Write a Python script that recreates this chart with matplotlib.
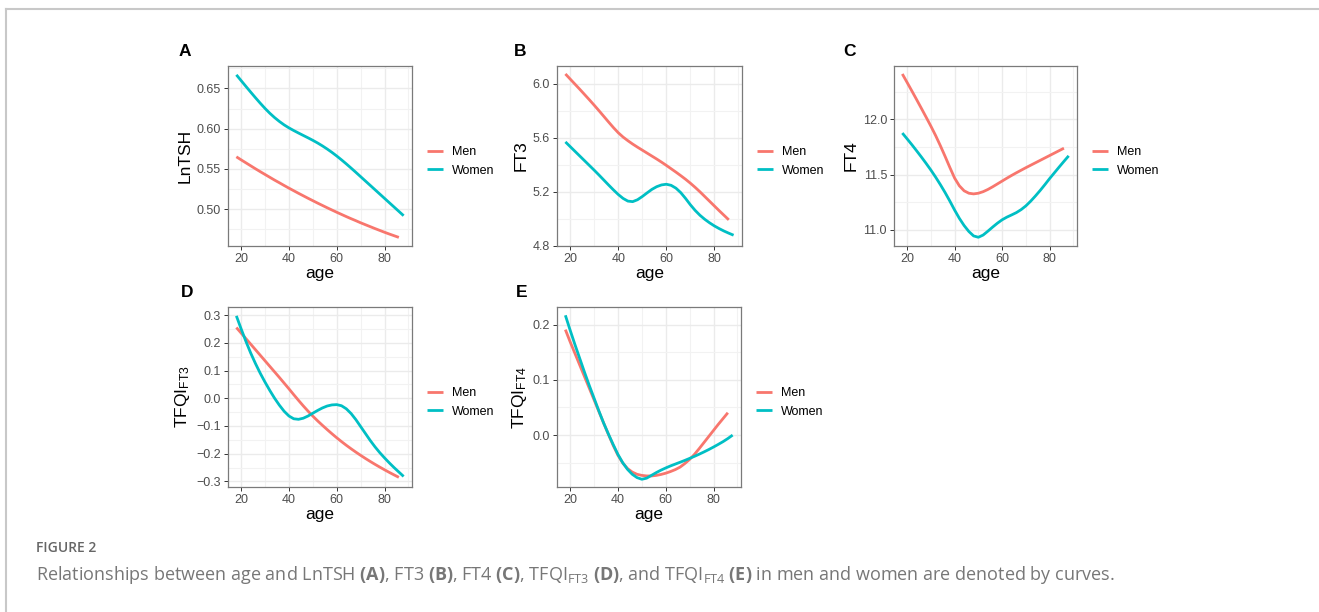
import matplotlib
matplotlib.use("Agg")
import matplotlib.pyplot as plt
from matplotlib.lines import Line2D
from matplotlib.ticker import FixedLocator, AutoMinorLocator

ages_men = list(range(18, 87, 2))      # 18 .. 86
ages_women = list(range(18, 89, 2))    # 18 .. 88

lntsh_men = [0.5650, 0.5612, 0.5575, 0.5538, 0.5501, 0.5465, 0.5430, 0.5395, 0.5360, 0.5327,
             0.5293, 0.5260, 0.5228, 0.5196, 0.5165, 0.5134, 0.5104, 0.5074, 0.5045, 0.5016,
             0.4988, 0.4960, 0.4933, 0.4906, 0.4880, 0.4855, 0.4829, 0.4805, 0.4781, 0.4757,
             0.4734, 0.4711, 0.4689, 0.4668, 0.4647]
lntsh_women = [0.6670, 0.6598, 0.6526, 0.6455, 0.6385, 0.6317, 0.6252, 0.6192, 0.6138, 0.6090,
               0.6047, 0.6010, 0.5977, 0.5946, 0.5916, 0.5886, 0.5855, 0.5822, 0.5786, 0.5747,
               0.5705, 0.5660, 0.5612, 0.5562, 0.5510, 0.5457, 0.5403, 0.5349, 0.5295, 0.5241,
               0.5187, 0.5133, 0.5079, 0.5025, 0.4971, 0.4917]

ft3_men = [6.074, 6.036, 5.998, 5.960, 5.921, 5.882, 5.842, 5.801, 5.759, 5.717,
           5.676, 5.638, 5.606, 5.579, 5.554, 5.531, 5.509, 5.487, 5.465, 5.443,
           5.420, 5.396, 5.371, 5.346, 5.320, 5.293, 5.264, 5.233, 5.200, 5.165,
           5.130, 5.095, 5.060, 5.026, 4.992]
ft3_women = [5.570, 5.535, 5.500, 5.465, 5.430, 5.395, 5.360, 5.324, 5.287, 5.250,
             5.214, 5.180, 5.151, 5.131, 5.127, 5.141, 5.165, 5.192, 5.218, 5.238,
             5.251, 5.256, 5.248, 5.227, 5.194, 5.151, 5.104, 5.062, 5.026, 4.996,
             4.970, 4.947, 4.927, 4.909, 4.893, 4.878]

ft4_men = [12.410, 12.334, 12.257, 12.179, 12.100, 12.020, 11.939, 11.854, 11.762, 11.665,
           11.565, 11.469, 11.399, 11.354, 11.332, 11.326, 11.332, 11.346, 11.366, 11.390,
           11.416, 11.442, 11.468, 11.493, 11.517, 11.540, 11.563, 11.585, 11.607, 11.629,
           11.651, 11.673, 11.695, 11.717, 11.739]
ft4_women = [11.876, 11.824, 11.771, 11.716, 11.660, 11.602, 11.542, 11.478, 11.410, 11.338,
             11.261, 11.180, 11.105, 11.040, 10.986, 10.946, 10.934, 10.954, 10.989, 11.026,
             11.061, 11.092, 11.116, 11.136, 11.157, 11.184, 11.218, 11.260, 11.307, 11.357,
             11.410, 11.465, 11.517, 11.569, 11.620, 11.670]

tfqi3_men = [0.2550, 0.2350, 0.2150, 0.1950, 0.1750, 0.1550, 0.1350, 0.1150, 0.0950, 0.0750,
             0.0545, 0.0340, 0.0130, -0.0075, -0.0275, -0.0465, -0.0645, -0.0815, -0.0975, -0.1130,
             -0.1280, -0.1425, -0.1563, -0.1695, -0.1821, -0.1942, -0.2058, -0.2170, -0.2278, -0.2382,
             -0.2482, -0.2579, -0.2673, -0.2764, -0.2852]
tfqi3_women = [0.297, 0.250, 0.205, 0.163, 0.125, 0.090, 0.058, 0.028, 0.000, -0.025,
               -0.047, -0.064, -0.074, -0.076, -0.072, -0.064, -0.054, -0.044, -0.035, -0.028,
               -0.024, -0.023, -0.027, -0.038, -0.055, -0.077, -0.102, -0.127, -0.152, -0.175,
               -0.196, -0.215, -0.233, -0.250, -0.266, -0.282]

tfqi4_men = [0.1910, 0.1690, 0.1480, 0.1270, 0.1060, 0.0850, 0.0640, 0.0430, 0.0220, 0.0015,
             -0.0185, -0.0365, -0.0505, -0.0605, -0.0670, -0.0710, -0.0730, -0.0740, -0.0740, -0.0730,
             -0.0713, -0.0690, -0.0660, -0.0625, -0.0580, -0.0515, -0.0440, -0.0350, -0.0245, -0.0135,
             -0.0025, 0.0085, 0.0195, 0.0300, 0.0405]
tfqi4_women = [0.2170, 0.1900, 0.1640, 0.1390, 0.1140, 0.0900, 0.0670, 0.0440, 0.0220, 0.0020,
               -0.0170, -0.0350, -0.0500, -0.0620, -0.0710, -0.0770, -0.0800, -0.0780, -0.0730, -0.0680,
               -0.0635, -0.0595, -0.0558, -0.0525, -0.0492, -0.0458, -0.0422, -0.0385, -0.0346, -0.0305,
               -0.0262, -0.0216, -0.0168, -0.0118, -0.0062, 0.0000]

x_ticks = [20, 40, 60, 80]
x_ticklabels = ["20", "40", "60", "80"]

y_ticks = {
    "A": [0.50, 0.55, 0.60, 0.65],
    "B": [4.8, 5.2, 5.6, 6.0],
    "C": [11.0, 11.5, 12.0],
    "D": [-0.3, -0.2, -0.1, 0.0, 0.1, 0.2, 0.3],
    "E": [0.0, 0.1, 0.2],
}
y_ticklabels = {
    "A": ["0.50", "0.55", "0.60", "0.65"],
    "B": ["4.8", "5.2", "5.6", "6.0"],
    "C": ["11.0", "11.5", "12.0"],
    "D": ["\u22120.3", "\u22120.2", "\u22120.1", "0.0", "0.1", "0.2", "0.3"],
    "E": ["0.0", "0.1", "0.2"],
}
y_limits = {
    "A": (0.454, 0.678),
    "B": (4.798, 6.133),
    "C": (10.855, 12.482),
    "D": (-0.320, 0.329),
    "E": (-0.094, 0.232),
}
y_titles = {
    "A": "LnTSH",
    "B": "FT3",
    "C": "FT4",
    "D": r"$\mathsf{TFQI}_{\mathsf{FT3}}$",
    "E": r"$\mathsf{TFQI}_{\mathsf{FT4}}$",
}

caption_head = "FIGURE 2"
caption = (r"Relationships between age and LnTSH $\mathbf{(A)}$, FT3 $\mathbf{(B)}$, "
           r"FT4 $\mathbf{(C)}$, TFQI$_{\mathrm{FT3}}$ $\mathbf{(D)}$, and "
           r"TFQI$_{\mathrm{FT4}}$ $\mathbf{(E)}$ in men and women are denoted by curves.")

MEN_C = "#F8766D"
WOMEN_C = "#00BFC4"

plt.rcParams["font.family"] = ["Liberation Sans", "DejaVu Sans"]
plt.rcParams["mathtext.fontset"] = "custom"
plt.rcParams["mathtext.sf"] = "Liberation Sans"
plt.rcParams["mathtext.rm"] = "Open Sans"
plt.rcParams["mathtext.bf"] = "Open Sans:bold"
plt.rcParams["mathtext.it"] = "Open Sans:italic"

W, H = 1319, 612
fig = plt.figure(figsize=(W / 100, H / 100), dpi=100)


def box(l, t, r, b):
    return [l / W, 1 - b / H, (r - l) / W, (b - t) / H]


panels = [
    ("A", box(228, 66, 412, 246), lntsh_men, lntsh_women, (179, 52)),
    ("B", box(557, 66, 742, 246), ft3_men, ft3_women, (514, 52)),
    ("C", box(894, 66, 1077, 246), ft4_men, ft4_women, (843, 52)),
    ("D", box(228, 307, 412, 487), tfqi3_men, tfqi3_women, (181, 292)),
    ("E", box(557, 307, 741, 487), tfqi4_men, tfqi4_women, (516, 292)),
]

for key, rect, men, women, (lx, ly) in panels:
    ax = fig.add_axes(rect)
    ax.set_axisbelow(True)
    ax.plot(ages_men, men, color=MEN_C, lw=2.0, label="Men",
            solid_capstyle="butt", solid_joinstyle="round")
    ax.plot(ages_women, women, color=WOMEN_C, lw=2.0, label="Women",
            solid_capstyle="butt", solid_joinstyle="round")
    ax.set_xlim(14.5, 91.5)
    ax.set_ylim(*y_limits[key])
    ax.xaxis.set_major_locator(FixedLocator(x_ticks))
    ax.set_xticklabels(x_ticklabels)
    ax.yaxis.set_major_locator(FixedLocator(y_ticks[key]))
    ax.set_yticklabels(y_ticklabels[key])
    ax.xaxis.set_minor_locator(AutoMinorLocator(2))
    ax.yaxis.set_minor_locator(AutoMinorLocator(2))
    ax.grid(which="major", color="#EBEBEB", lw=1.0)
    ax.grid(which="minor", color="#F2F2F2", lw=0.8)
    ax.tick_params(which="major", length=3, width=0.7, color="#333333",
                   labelsize=9, labelcolor="#4D4D4D", pad=2)
    ax.tick_params(which="minor", length=0)
    for sp in ax.spines.values():
        sp.set_color("#7a7a7a")
        sp.set_linewidth(0.9)
    ax.set_xlabel("age", fontsize=12.5, labelpad=1)
    ax.set_ylabel(y_titles[key], fontsize=12.5, labelpad=3)
    ax.legend(loc="center left", bbox_to_anchor=(1.08, 0.47), frameon=False,
              fontsize=9, handlelength=1.3, handletextpad=0.7, labelspacing=0.55,
              borderpad=0, borderaxespad=0)
    fig.text(lx / W, 1 - ly / H, key, fontsize=12.5, fontweight="bold",
             ha="left", va="center")

# page frame
fig.add_artist(Line2D([6 / W, 1], [1 - 9 / H] * 2, color="#C8C8C8", lw=1.5))
fig.add_artist(Line2D([6 / W] * 2, [0, 1 - 9 / H], color="#C8C8C8", lw=1.5))

fig.text(36 / W, 1 - 548 / H, caption_head, fontsize=10, fontweight="semibold",
         family="Open Sans", color="#666666", va="center")
fig.text(36 / W, 1 - 575 / H, caption, fontsize=12.95, family="Open Sans",
         color="#777777", va="center")

fig.savefig("out.png", dpi=100)
